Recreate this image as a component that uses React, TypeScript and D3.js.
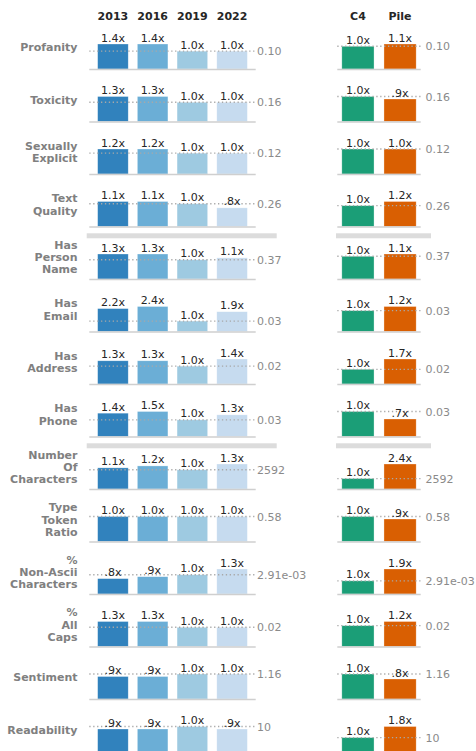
import React from 'react';
import * as d3 from 'd3';

const years = ['2013', '2016', '2019', '2022'];
const corpora = ['C4', 'Pile'];

const rowLabels = [
  'Profanity',
  'Toxicity',
  'Sexually\nExplicit',
  'Text\nQuality',
  'Has\nPerson\nName',
  'Has\nEmail',
  'Has\nAddress',
  'Has\nPhone',
  'Number\nOf\nCharacters',
  'Type\nToken\nRatio',
  '%\nNon-Ascii\nCharacters',
  '%\nAll\nCaps',
  'Sentiment',
  'Readability',
];

// ratio to 2019 for each year
const yearRatios = [
  [1.4, 1.4, 1.0, 1.0],
  [1.3, 1.3, 1.0, 1.0],
  [1.2, 1.2, 1.0, 1.0],
  [1.1, 1.1, 1.0, 0.82],
  [1.3, 1.3, 1.0, 1.1],
  [2.2, 2.4, 1.0, 1.9],
  [1.3, 1.3, 1.0, 1.4],
  [1.4, 1.5, 1.0, 1.3],
  [1.1, 1.2, 1.0, 1.3],
  [1.0, 1.0, 1.0, 1.0],
  [0.8, 0.9, 1.0, 1.3],
  [1.3, 1.3, 1.0, 1.0],
  [0.9, 0.9, 1.0, 1.0],
  [0.9, 0.9, 1.0, 0.9],
];

// ratio to C4
const corpusRatios = [
  [1.0, 1.1],
  [1.0, 0.9],
  [1.0, 1.0],
  [1.0, 1.2],
  [1.0, 1.1],
  [1.0, 1.2],
  [1.0, 1.7],
  [1.0, 0.7],
  [1.0, 2.4],
  [1.0, 0.9],
  [1.0, 1.9],
  [1.0, 1.2],
  [1.0, 0.8],
  [1.0, 1.8],
];

// absolute value of the reference (2019 / C4)
const yearBase = ['0.10', '0.16', '0.12', '0.26', '0.37', '0.03', '0.02', '0.03', '2592', '0.58', '2.91e-03', '0.02', '1.16', '10'];
const corpusBase = ['0.10', '0.16', '0.12', '0.26', '0.37', '0.03', '0.02', '0.03', '2592', '0.58', '2.91e-03', '0.02', '1.16', '10'];

const sectionBreaks = [3, 7];

const yearColors = ['#3182bd', '#6baed6', '#9ecae1', '#c6dbef'];
const corpusColors = ['#1b9e77', '#d95f02'];

const W = 476;
const H = 751;
const firstBase = 69;
const rowStep = 52.5;
const barMax = 25;
const font = '"DejaVu Sans", sans-serif';

const fmt = (v: number) => {
  const s = v.toFixed(1);
  return (v < 1 ? s.replace(/^0/, '') : s) + 'x';
};

interface PanelProps {
  x: d3.ScaleBand<string>;
  keys: string[];
  values: number[];
  colors: string[];
  refIndex: number;
  base: number;
  label: string;
  labelX: number;
}

const Panel: React.FC<PanelProps> = (props) => {
  const { x, keys, values, colors, refIndex, base, label, labelX } = props;
  const y = d3
    .scaleLinear()
    .domain([0, d3.max(values) as number])
    .range([base, base - barMax]);
  const [x0, x1] = x.range();
  const refY = y(values[refIndex]);
  return (
    <g>
      {keys.map((k, i) => (
        <rect
          key={k}
          x={x(k)}
          y={y(values[i])}
          width={x.bandwidth()}
          height={base - y(values[i])}
          fill={colors[i]}
          stroke="#fff"
          strokeOpacity={0.5}
          strokeWidth={0.6}
        />
      ))}
      <line x1={x0} x2={x1} y1={base + 0.5} y2={base + 0.5} stroke="#cfcfcf" strokeWidth={1.3} />
      <line
        x1={x0}
        x2={x1}
        y1={refY}
        y2={refY}
        stroke="#a8a8a8"
        strokeWidth={1.3}
        strokeDasharray="1.3 2.6"
      />
      {keys.map((k, i) => (
        <text
          key={k}
          x={(x(k) as number) + x.bandwidth() / 2}
          y={y(values[i]) - 2.5}
          textAnchor="middle"
          fontSize={11}
          fill="#262626"
        >
          {fmt(values[i])}
        </text>
      ))}
      <text x={labelX} y={refY + 4} fontSize={11} fill="#8a8a8a">
        {label}
      </text>
    </g>
  );
};

export default function App() {
  const xYears = d3
    .scaleBand<string>()
    .domain(years)
    .range([89.3, 255.7])
    .paddingInner(0.23)
    .paddingOuter(0.21);
  const xCorp = d3
    .scaleBand<string>()
    .domain(corpora)
    .range([337.3, 420.7])
    .paddingInner(0.236)
    .paddingOuter(0.108);

  return (
    <svg
      width={W}
      height={H}
      style={{ position: 'absolute', left: 0, top: 0, display: 'block', fontFamily: font }}
    >
      <rect width={W} height={H} fill="#fff" />
      {years.map((k) => (
        <text
          key={k}
          x={(xYears(k) as number) + xYears.bandwidth() / 2}
          y={19.5}
          textAnchor="middle"
          fontSize={11}
          fontWeight="bold"
          fill="#262626"
        >
          {k}
        </text>
      ))}
      {corpora.map((k) => (
        <text
          key={k}
          x={(xCorp(k) as number) + xCorp.bandwidth() / 2}
          y={19.5}
          textAnchor="middle"
          fontSize={11}
          fontWeight="bold"
          fill="#262626"
        >
          {k}
        </text>
      ))}
      {rowLabels.map((lab, i) => {
        const base = firstBase + i * rowStep;
        const lines = lab.split('\n');
        const mid = base - 22;
        return (
          <g key={lab}>
            {lines.map((ln, j) => (
              <text
                key={j}
                x={77.5}
                y={mid + (j - (lines.length - 1) / 2) * 12.3 + 4}
                textAnchor="end"
                fontSize={11}
                fontWeight="bold"
                fill="#808080"
              >
                {ln}
              </text>
            ))}
            <Panel
              x={xYears}
              keys={years}
              values={yearRatios[i]}
              colors={yearColors}
              refIndex={2}
              base={base}
              label={yearBase[i]}
              labelX={257}
            />
            <Panel
              x={xCorp}
              keys={corpora}
              values={corpusRatios[i]}
              colors={corpusColors}
              refIndex={0}
              base={base}
              label={corpusBase[i]}
              labelX={425.5}
            />
          </g>
        );
      })}
      {sectionBreaks.map((r) => {
        const yy = firstBase + r * rowStep + 6.8;
        return (
          <g key={r}>
            <rect x={86.7} y={yy} width={190} height={5} fill="#dcdcdc" />
            <rect x={336} y={yy} width={95} height={5} fill="#dcdcdc" />
          </g>
        );
      })}
    </svg>
  );
}
